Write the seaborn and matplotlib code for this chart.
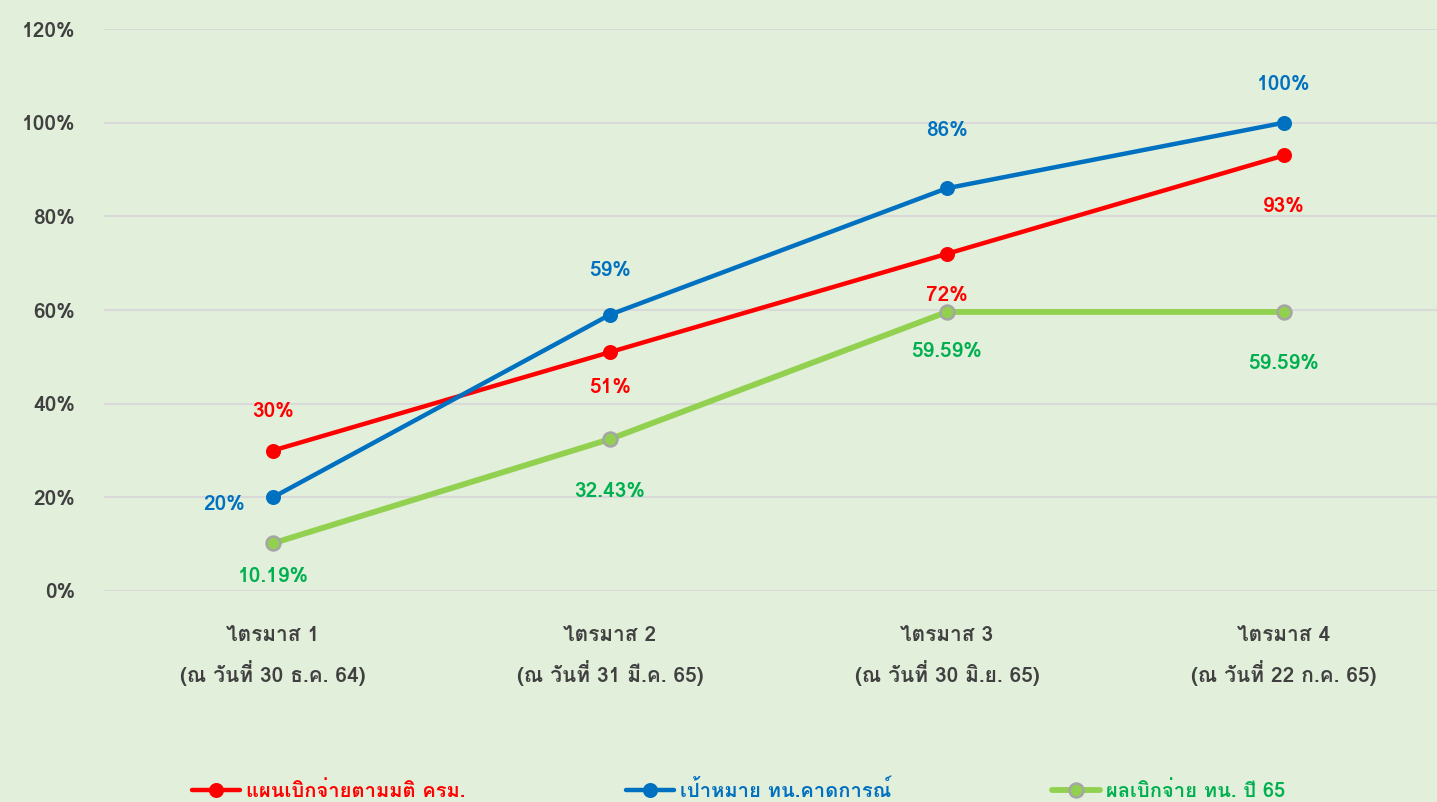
import pandas as pd
import seaborn as sns
import matplotlib.pyplot as plt
from matplotlib import font_manager
from matplotlib.ft2font import FT2Font
from matplotlib.lines import Line2D

# Chart values (percent).
quarters = ['ไตรมาส 1\n(ณ วันที่ 30 ธ.ค. 64)', 'ไตรมาส 2\n(ณ วันที่ 31 มี.ค. 65)',
            'ไตรมาส 3\n(ณ วันที่ 30 มิ.ย. 65)', 'ไตรมาส 4\n(ณ วันที่ 22 ก.ค. 65)']
plan = [30, 51, 72, 93]
target = [20, 59, 86, 100]
actual = [10.19, 32.43, 59.59, 59.59]
series_names = ['แผนเบิกจ่ายตามมติ ครม.', 'เป้าหมาย ทน.คาดการณ์', 'ผลเบิกจ่าย ทน. ปี 65']
plan_labels = ['30%', '51%', '72%', '93%']
target_labels = ['20%', '59%', '86%', '100%']
actual_labels = ['10.19%', '32.43%', '59.59%', '59.59%']

sns.set_style('white')

# Look for an installed font that covers Thai script.
thai_fonts = []
for f in font_manager.fontManager.ttflist:
    try:
        if 0x0E44 in FT2Font(f.fname).get_charmap() and f.name not in thai_fonts:
            thai_fonts.append(f.name)
    except Exception:
        pass
plt.rcParams['font.family'] = thai_fonts[:1] + ['Noto Sans', 'DejaVu Sans']

df = pd.DataFrame({
    'x': list(range(4)) * 3,
    'value': plan + target + actual,
    'series': [series_names[0]] * 4 + [series_names[1]] * 4 + [series_names[2]] * 4,
})

bg = '#e2efda'
fig = plt.figure(figsize=(14.37, 8.02), dpi=100, facecolor=bg)
ax = fig.add_axes([0.0727, 0.2631, 0.938, 0.7007], facecolor=bg)

styles = {
    series_names[0]: dict(color='#ff0000', lw=3.2, mfc='#ff0000', mec='#ff0000', ms=9),
    series_names[1]: dict(color='#0070c0', lw=3.2, mfc='#0070c0', mec='#0070c0', ms=9),
    series_names[2]: dict(color='#92d050', lw=4.2, mfc='#92d050', mec='#a5a5a5', ms=10),
}
for name in series_names:
    st = styles[name]
    sns.lineplot(data=df[df.series == name], x='x', y='value', ax=ax,
                 color=st['color'], linewidth=st['lw'], marker='o',
                 markersize=st['ms'], markerfacecolor=st['mfc'],
                 markeredgecolor=st['mec'], markeredgewidth=1.8, legend=False)

# Data labels
lab_kw = dict(ha='center', va='center', fontsize=15, fontweight='bold')
plan_off = [8.3, -7.6, -9.0, -10.9]
for i, (v, t) in enumerate(zip(plan, plan_labels)):
    ax.text(i, v + plan_off[i], t, color='#ff0000', **lab_kw)
target_off = [(-0.145, -1.5), (0, 9.5), (0, 12.3), (0, 8.1)]
for i, (v, t) in enumerate(zip(target, target_labels)):
    dx, dy = target_off[i]
    ax.text(i + dx, v + dy, t, color='#0070c0', **lab_kw)
actual_off = [-7.1, -11.1, -8.4, -11.1]
for i, (v, t) in enumerate(zip(actual, actual_labels)):
    ax.text(i, v + actual_off[i], t, color='#00b050', **lab_kw)

ax.set_xlim(-0.5, 3.5)
ax.set_ylim(0, 120)
ax.set_yticks(range(0, 121, 20))
ax.set_yticklabels([f'{v}%' for v in range(0, 121, 20)])
ax.set_xticks(range(4))
ax.set_xticklabels(quarters, linespacing=1.7)
ax.tick_params(axis='y', length=0, pad=21, labelsize=15, labelcolor='#404040')
ax.tick_params(axis='x', length=0, pad=25, labelsize=15, labelcolor='#404040')
for lbl in ax.get_xticklabels() + ax.get_yticklabels():
    lbl.set_fontweight('bold')
ax.grid(axis='y', color='#d9d9d9', linewidth=1.5)
ax.set_axisbelow(True)
for s in ax.spines.values():
    s.set_visible(False)
ax.set_xlabel('')
ax.set_ylabel('')

handles = [Line2D([], [], color=styles[n]['color'], lw=styles[n]['lw'], marker='o',
                  ms=styles[n]['ms'], mfc=styles[n]['mfc'], mec=styles[n]['mec'], mew=1.8)
           for n in series_names]
leg = fig.legend(handles, series_names, loc='center left', bbox_to_anchor=(0.121, 0.015),
                 ncol=3, frameon=False, fontsize=14.5, columnspacing=7.95,
                 handlelength=2.4, handletextpad=0.3)
for txt, n in zip(leg.get_texts(), series_names):
    txt.set_color(styles[n]['color'] if n != series_names[2] else '#00b050')
    txt.set_fontweight('bold')

fig.savefig('out.png', dpi=100, facecolor=bg)
